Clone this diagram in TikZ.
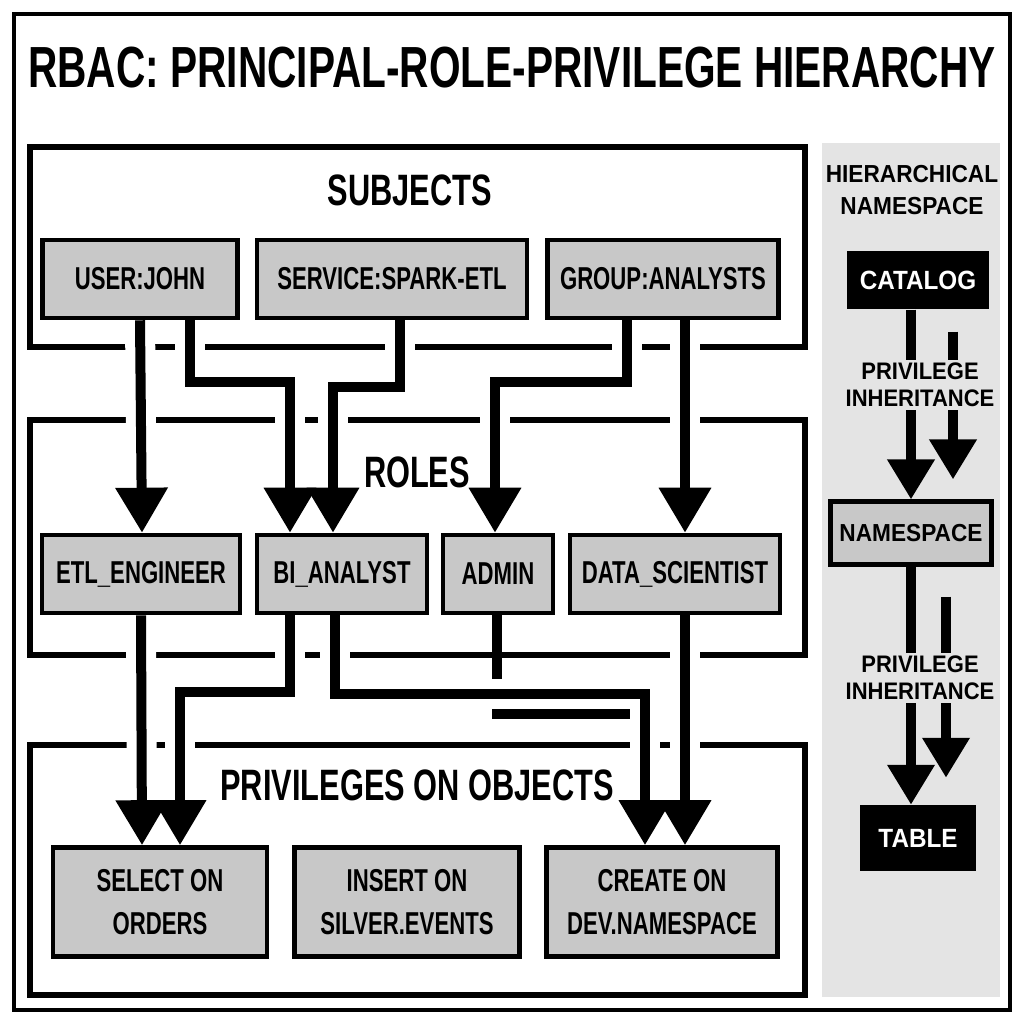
\documentclass[tikz,border=0pt]{standalone}
\usepackage{fontspec}
\setmainfont{Liberation Sans}[FakeStretch=0.7]
\newfontfamily\panelfont{Liberation Sans}[FakeStretch=0.92]
\usetikzlibrary{positioning,calc,arrows.meta}
\definecolor{boxgray}{HTML}{C8C8C8}
\definecolor{panelgray}{HTML}{E4E4E4}
\tikzset{
  role/.style={draw,line width=0.045cm,fill=boxgray,inner sep=0pt,
    font=\bfseries\fontsize{9}{12}\selectfont,align=center},
  frame/.style={line width=0.06cm},
  heading/.style={font=\bfseries\fontsize{12.5}{15}\selectfont},
  arr/.style={line width=0.1cm,-{Triangle[width=0.5cm,length=0.45cm]},
    preaction={draw=white,line width=0.3cm,-,shorten >=0.5cm,shorten <=0.06cm}},
  blk/.style={fill=black,text=white,inner sep=0pt,
    font=\panelfont\bfseries\fontsize{7.5}{9}\selectfont},
  inh/.style={fill=panelgray,inner sep=1pt,align=center,
    font=\panelfont\bfseries\fontsize{6.8}{7.6}\selectfont},
  parr/.style={line width=0.1cm,-{Triangle[width=0.45cm,length=0.4cm]}}
}
\begin{document}
\begin{tikzpicture}[x=0.01cm,y=-0.01cm]
    \useasboundingbox (0,0) rectangle (1024,1024);
    \draw[line width=0.035cm] (14,14) rectangle (1010,1010);
    \node[font=\bfseries\fontsize{16.5}{19}\selectfont] (title) at (512,68)
      {RBAC: PRINCIPAL-ROLE-PRIVILEGE HIERARCHY};

    % Layers
    \draw[frame] (30,147) rectangle (805,347);
    \draw[frame] (30,420) rectangle (805,655);
    \draw[frame] (30,745) rectangle (805,995);
    \node[heading] (subj) at (410,190) {SUBJECTS};
    \node[heading] (roles) at (417,472) {ROLES};
    \node[heading] (privs) at (417,785) {PRIVILEGES ON OBJECTS};

    % Subjects
    \node[role,minimum width=1.95cm,minimum height=0.78cm] (john) at (140,279) {USER:JOHN};
    \node[role,minimum width=2.7cm,minimum height=0.78cm] (spark) at (392,279) {SERVICE:SPARK-ETL};
    \node[role,minimum width=2.31cm,minimum height=0.78cm] (grp) at (663,279) {GROUP:ANALYSTS};

    % Roles
    \node[role,minimum width=1.98cm,minimum height=0.78cm] (etl) at (141,574) {ETL\_ENGINEER};
    \node[role,minimum width=1.7cm,minimum height=0.78cm] (bi) at (342,574) {BI\_ANALYST};
    \node[role,minimum width=1.1cm,minimum height=0.78cm] (admin) at (498,574) {ADMIN};
    \node[role,minimum width=2.1cm,minimum height=0.78cm] (ds) at (675,574) {DATA\_SCIENTIST};

    % Privileges
    \node[role,minimum width=2.14cm,minimum height=1.09cm] (sel) at (160,902) {SELECT ON\\ORDERS};
    \node[role,minimum width=2.25cm,minimum height=1.09cm] (ins) at (407,902) {INSERT ON\\SILVER.EVENTS};
    \node[role,minimum width=2.31cm,minimum height=1.09cm] (crt) at (662,902) {CREATE ON\\DEV.NAMESPACE};

    % Subjects to roles
    \draw[arr] (john.south) -- ($(etl.north)+(1,0)$);
    \draw[arr] ($(john.south)+(50,0)$) -- ++(0,62) -| ($(bi.north)+(-52,0)$);
    \draw[arr] ($(spark.south)+(8,0)$) -- ++(0,67) -| ($(bi.north)+(-9,0)$);
    \draw[arr] ($(grp.south)+(-36,0)$) -- ++(0,62) -| ($(admin.north)+(-3,0)$);
    \draw[arr] ($(grp.south)+(22,0)$) -- ($(ds.north)+(10,0)$);

    % Roles to privileges
    \draw[line width=0.1cm] ($(admin.south)+(-1,0)$) -- ++(0,99) -- ++(143,0);
    \draw[arr] (etl.south) -- ($(sel.north)+(-18,0)$);
    \draw[arr] ($(bi.south)+(-52,0)$) -- ++(0,77) -| ($(sel.north)+(20,0)$);
    \draw[arr] ($(bi.south)+(-7,0)$) -- ++(0,79) -| ($(crt.north)+(-17,0)$);
    \draw[arr] ($(ds.south)+(10,0)$) -- ($(crt.north)+(23,0)$);

    % Namespace panel
    \fill[panelgray] (822,143) rectangle (1000,997);
    \node[font=\panelfont\bfseries\fontsize{7}{9}\selectfont,align=center] (hier) at (912,190)
      {HIERARCHICAL\\NAMESPACE};
    \node[blk,minimum width=1.42cm,minimum height=0.58cm] (cat) at (918,280) {CATALOG};
    \node[draw,line width=0.05cm,fill=boxgray,inner sep=0pt,minimum width=1.6cm,minimum height=0.62cm,
      font=\panelfont\bfseries\fontsize{7}{9}\selectfont] (nsp) at (911,533) {NAMESPACE};
    \node[blk,minimum width=1.15cm,minimum height=0.65cm] (tab) at (918,838) {TABLE};
    \draw[parr] (cat.south -| nsp.north) -- (nsp.north);
    \draw[parr] ($(cat.south)+(35,22)$) -- ($(nsp.north)+(42,-20)$);
    \draw[parr] (nsp.south) -- (nsp.south |- tab.north);
    \draw[parr] ($(nsp.south)+(35,30)$) -- ($(tab.north)+(28,-27)$);
    \node[inh] (inh1) at (920,385) {PRIVILEGE\\INHERITANCE};
    \node[inh] (inh2) at (920,678) {PRIVILEGE\\INHERITANCE};
\end{tikzpicture}
\end{document}
